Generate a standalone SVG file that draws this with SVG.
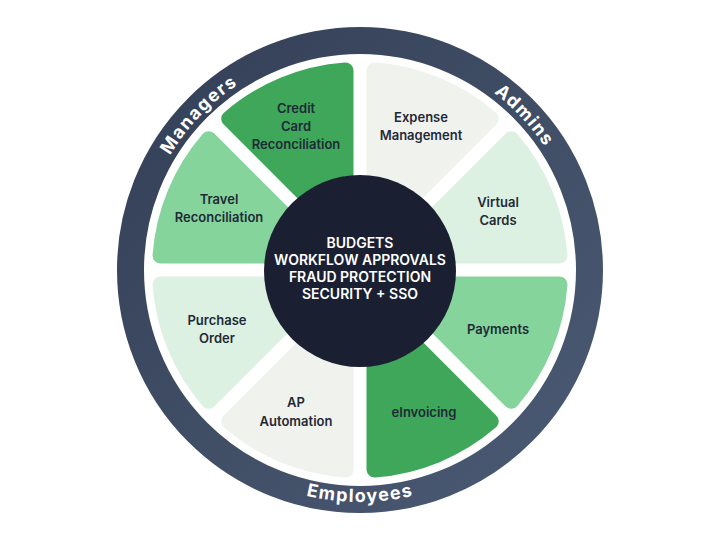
<svg xmlns="http://www.w3.org/2000/svg" width="720" height="540" viewBox="0 0 720 540">
  <defs>
    <linearGradient id="ringGrad" x1="0" y1="0" x2="1" y2="1">
      <stop offset="0" stop-color="#333f57"/>
      <stop offset="1" stop-color="#4b5b73"/>
    </linearGradient>
    <path id="topArc" d="M 138 270 A 222 222 0 0 1 582 270"/>
    <path id="bottomArc" d="M 128 270 A 232 232 0 0 0 592 270"/>
  </defs>
  <style>
    .sec { stroke-width: 16; stroke-linejoin: round; }
    .dark { fill: #3ea75a; stroke: #3ea75a; }
    .mid { fill: #85d49c; stroke: #85d49c; }
    .light { fill: #ddf1e3; stroke: #ddf1e3; }
    .gray { fill: #f0f2ee; stroke: #f0f2ee; }
    .lbl { font-family: Inter, "Liberation Sans", sans-serif; font-size: 13px; font-weight: 600; fill: #1f2a37; text-anchor: middle; }
    .ctr { font-family: Inter, "Liberation Sans", sans-serif; font-size: 14px; font-weight: 600; fill: #ffffff; text-anchor: middle; }
    .ring { font-family: Inter, "Liberation Sans", sans-serif; font-size: 18px; font-weight: 700; fill: #ffffff; text-anchor: middle; letter-spacing: 1.4px; }
  </style>
  <rect width="720" height="540" fill="#ffffff"/>
  <g id="ring">
    <circle cx="360" cy="270" r="229.5" fill="none" stroke="url(#ringGrad)" stroke-width="27"/>
    <text class="ring"><textPath href="#topArc" startOffset="24.4%">Managers</textPath></text>
    <text class="ring"><textPath href="#topArc" startOffset="76%">Admins</textPath></text>
    <text class="ring"><textPath href="#bottomArc" startOffset="50%">Employees</textPath></text>
  </g>
  <g id="expense-management">
    <path class="sec gray" d="M 374.5 235 L 374.5 70.53 A 200 200 0 0 1 490.8 118.7 Z"/>
    <text class="lbl" x="421" y="122">Expense</text>
    <text class="lbl" x="421" y="140">Management</text>
  </g>
  <g id="virtual-cards">
    <path class="sec light" d="M 395 255.5 L 511.3 139.2 A 200 200 0 0 1 559.47 255.5 Z"/>
    <text class="lbl" x="498" y="207">Virtual</text>
    <text class="lbl" x="498" y="225">Cards</text>
  </g>
  <g id="payments">
    <path class="sec mid" d="M 395 284.5 L 559.47 284.5 A 200 200 0 0 1 511.3 400.8 Z"/>
    <text class="lbl" x="498" y="334">Payments</text>
  </g>
  <g id="einvoicing">
    <path class="sec dark" d="M 374.5 305 L 490.8 421.3 A 200 200 0 0 1 374.5 469.47 Z"/>
    <text class="lbl" x="424" y="417">eInvoicing</text>
  </g>
  <g id="ap-automation">
    <path class="sec gray" d="M 345.5 305 L 345.5 469.47 A 200 200 0 0 1 229.2 421.3 Z"/>
    <text class="lbl" x="296" y="407">AP</text>
    <text class="lbl" x="296" y="426">Automation</text>
  </g>
  <g id="purchase-order">
    <path class="sec light" d="M 325 284.5 L 208.7 400.8 A 200 200 0 0 1 160.53 284.5 Z"/>
    <text class="lbl" x="217" y="325">Purchase</text>
    <text class="lbl" x="217" y="343">Order</text>
  </g>
  <g id="travel-reconciliation">
    <path class="sec mid" d="M 325 255.5 L 160.53 255.5 A 200 200 0 0 1 208.7 139.2 Z"/>
    <text class="lbl" x="219" y="204">Travel</text>
    <text class="lbl" x="219" y="222">Reconciliation</text>
  </g>
  <g id="credit-card-reconciliation">
    <path class="sec dark" d="M 345.5 235 L 229.2 118.7 A 200 200 0 0 1 345.5 70.53 Z"/>
    <text class="lbl" x="296" y="113">Credit</text>
    <text class="lbl" x="296" y="131">Card</text>
    <text class="lbl" x="296" y="149">Reconciliation</text>
  </g>
  <g id="core">
    <circle cx="360" cy="271" r="96" fill="#1b1f32"/>
    <text class="ctr" x="360" y="248">BUDGETS</text>
    <text class="ctr" x="360" y="265">WORKFLOW APPROVALS</text>
    <text class="ctr" x="360" y="282">FRAUD PROTECTION</text>
    <text class="ctr" x="360" y="299">SECURITY + SSO</text>
  </g>
  <g id="connectors"/>
</svg>
